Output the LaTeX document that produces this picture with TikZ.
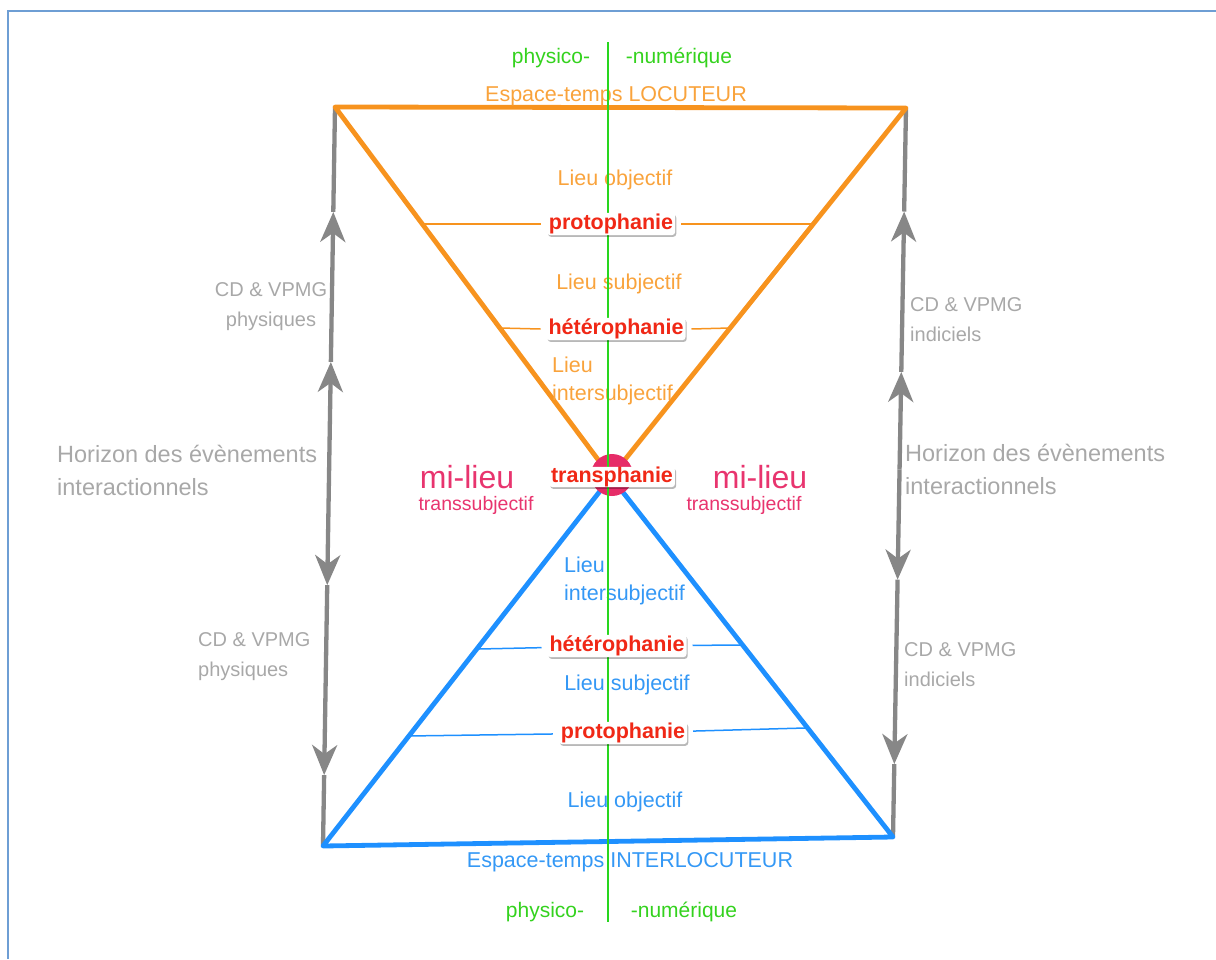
\documentclass[tikz,border=0pt]{standalone}
\usepackage{fontspec}
\setmainfont{Liberation Sans}
\usetikzlibrary{arrows.meta,calc,shadows}
\definecolor{framec}{RGB}{110,158,212}
\definecolor{orangeL}{RGB}{247,147,30}
\definecolor{orangeT}{RGB}{249,163,60}
\definecolor{blueL}{RGB}{30,144,255}
\definecolor{blueT}{RGB}{52,152,245}
\definecolor{greenL}{RGB}{40,214,30}
\definecolor{greenT}{RGB}{52,210,30}
\definecolor{redT}{RGB}{240,40,22}
\definecolor{pinkT}{RGB}{232,52,110}
\definecolor{pinkC}{RGB}{230,44,104}
\definecolor{grayL}{RGB}{135,135,135}
\definecolor{grayT}{RGB}{168,168,168}
\tikzset{
  frameline/.style={draw=framec, line width=2.5pt},
  othick/.style={draw=orangeL, line width=4.8pt, line join=round},
  bthick/.style={draw=blueL, line width=4.8pt, line join=round},
  othin/.style={draw=orangeL, line width=1.5pt},
  bthin/.style={draw=blueL, line width=1.5pt},
  gline/.style={draw=grayL, line width=4.3pt},
  garrow/.style={gline, -{Stealth[length=30pt,width=25pt,inset=9pt]}},
  greenline/.style={draw=greenL, line width=1.6pt},
  otext/.style={text=orangeT, inner sep=0pt, font=\fontsize{21.5}{28}\selectfont, align=left},
  btext/.style={text=blueT, inner sep=0pt, font=\fontsize{21.5}{28}\selectfont, align=left},
  gtext/.style={text=greenT, inner sep=0pt, font=\fontsize{21}{26}\selectfont},
  redlab/.style={text=redT, fill=white, rounded corners=3pt, inner xsep=2pt, inner ysep=1pt,
    outer sep=6pt, font=\bfseries\fontsize{21.5}{26}\selectfont,
    drop shadow={shadow xshift=1.2pt, shadow yshift=-1.8pt, opacity=0.28, fill=black}},
  bigpink/.style={text=pinkT, inner sep=0pt, font=\fontsize{32}{36}\selectfont},
  smallpink/.style={text=pinkT, inner sep=0pt, font=\fontsize{19.5}{24}\selectfont},
  graytext/.style={text=grayT, inner sep=0pt, font=\fontsize{20}{30}\selectfont},
  horizon/.style={text=grayT, inner sep=0pt, font=\fontsize{23.5}{33}\selectfont, align=left},
}
\begin{document}
\begin{tikzpicture}[x=1pt,y=-1pt]
\useasboundingbox (0,0) rectangle (1216,959);
% frame
\coordinate (FR0) at (8,11);
\coordinate (FR1) at (1216,11);
\coordinate (FR2) at (8,959);
\draw[frameline] (FR1) -- (FR0) -- (FR2);

% main points
\coordinate (OTL) at (335,107);
\coordinate (OTR) at (906,108);
\coordinate (X) at (611,477);
\coordinate (BBL) at (323,846);
\coordinate (BBR) at (893,837);

% gray left line
\coordinate (LU1) at ($(OTL)!0.142!(BBL)$);
\coordinate (LU2) at ($(OTL)!0.345!(BBL)$);
\coordinate (LM) at ($(OTL)!0.491!(BBL)$);
\coordinate (LD1) at ($(OTL)!0.647!(BBL)$);
\coordinate (LD2) at ($(OTL)!0.904!(BBL)$);
\draw[gline] (OTL) -- (LU1);
\draw[garrow] (LU2) -- (LU1);
\draw[garrow] (LM) -- (LU2);
\draw[garrow] (LM) -- (LD1);
\draw[garrow] (LD1) -- (LD2);
\draw[gline] (LD2) -- (BBL);
% gray right line
\coordinate (RU1) at ($(OTR)!0.142!(BBR)$);
\coordinate (RU2) at ($(OTR)!0.362!(BBR)$);
\coordinate (RM) at ($(OTR)!0.496!(BBR)$);
\coordinate (RD1) at ($(OTR)!0.647!(BBR)$);
\coordinate (RD2) at ($(OTR)!0.9!(BBR)$);
\draw[gline] (OTR) -- (RU1);
\draw[garrow] (RU2) -- (RU1);
\draw[garrow] (RM) -- (RU2);
\draw[garrow] (RM) -- (RD1);
\draw[garrow] (RD1) -- (RD2);
\draw[gline] (RD2) -- (BBR);

% triangles
\draw[othick] (OTL) -- (OTR) -- (X) -- cycle;
\draw[bthick] (X) -- (BBL) -- (BBR) -- cycle;

% pink circle
\node[circle, fill=pinkC, minimum size=42pt, inner sep=0pt] (tcirc) at (612,475) {};

% texts (normal)
\node[gtext] (phys1) at (551,58) {physico-};
\node[gtext] (num1) at (679,58) {-numérique};
\node[otext] (etl) at (616,96) {Espace-temps LOCUTEUR};
\node[otext] (lo1) at (615,180) {Lieu objectif};
\node[otext] (ls1) at (619,284) {Lieu subjectif};
\node[otext, anchor=west] (li1) at (552,381) {Lieu\\intersubjectif};
\node[btext, anchor=west] (li2) at (564,581) {Lieu\\intersubjectif};
\node[btext] (ls2) at (627,685) {Lieu subjectif};
\node[btext] (lo2) at (625,802) {Lieu objectif};
\node[btext] (eti) at (630,862) {Espace-temps INTERLOCUTEUR};
\node[gtext] (phys2) at (545,912) {physico-};
\node[gtext] (num2) at (684,912) {-numérique};

\node[bigpink] (ml1) at (467,477) {mi-lieu};
\node[smallpink] (ts1) at (476,505) {transsubjectif};
\node[bigpink] (ml2) at (760,477) {mi-lieu};
\node[smallpink] (ts2) at (744,505) {transsubjectif};

\node[graytext, align=center] (cd1) at (271,307) {CD \& VPMG\\physiques};
\node[horizon, anchor=west] (hz1) at (57,470) {Horizon des évènements\\interactionnels};
\node[graytext, align=left, anchor=west] (cd2) at (198,657) {CD \& VPMG\\physiques};
\node[graytext, align=left, anchor=west] (cd3) at (910,320) {CD \& VPMG\\indiciels};
\node[horizon, anchor=west] (hz2) at (905,469) {Horizon des évènements\\interactionnels};
\node[graytext, align=left, anchor=west] (cd4) at (904,665) {CD \& VPMG\\indiciels};

% green axis
\coordinate (G1) at (608,42);
\coordinate (G2) at (608,922);
\draw[greenline] (G1) -- (G2);

% red labels
\node[redlab] (protoO) at (611,224) {protophanie};
\node[redlab] (hetO) at (616,329) {hétérophanie};
\node[redlab, inner ysep=0pt] (trans) at (612,477) {transphanie};
\node[redlab] (hetB) at (617,646) {hétérophanie};
\node[redlab] (protoB) at (623,733) {protophanie};

% thin level lines
\coordinate (op1) at (422,224);
\coordinate (op2) at (813,224);
\coordinate (oh1) at (500,328);
\coordinate (oh2) at (730,328);
\coordinate (bh1) at (479,649);
\coordinate (bh2) at (742,645);
\coordinate (bp1) at (407,736);
\coordinate (bp2) at (805,728);
\draw[othin] (op1) -- (protoO.west);
\draw[othin] (protoO.east) -- (op2);
\draw[othin] (oh1) -- (hetO.west);
\draw[othin] (hetO.east) -- (oh2);
\draw[bthin] (bh1) -- (hetB);
\draw[bthin] (hetB) -- (bh2);
\draw[bthin] (bp1) -- (protoB);
\draw[bthin] (protoB) -- (bp2);
\end{tikzpicture}
\end{document}
